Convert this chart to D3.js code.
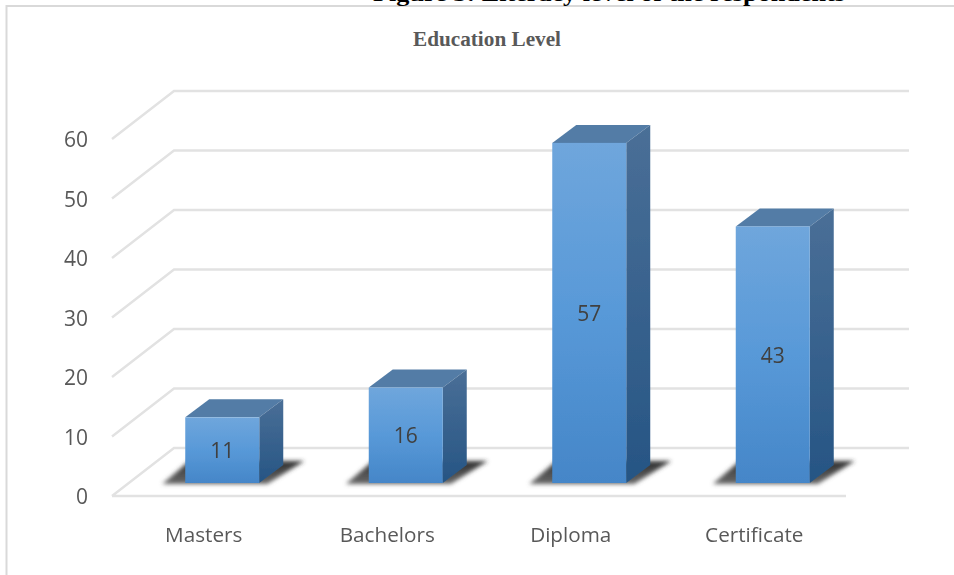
<!DOCTYPE html>
<html><head><meta charset="utf-8">
<script src="https://cdn.jsdelivr.net/npm/d3@7"></script>
<style>html,body{margin:0;padding:0;background:#fff}svg{display:block}</style></head>
<body><svg id="c" width="954" height="575"></svg>
<script>
const categories = ["Masters","Bachelors","Diploma","Certificate"];
const values = [11,16,57,43];
const yTicks = [0,10,20,30,40,50,60];
const chartTitle = "Education Level";
const figureCaption = "Figure 3: Literacy level of the respondents";

const W=954,H=575;
const svg=d3.select("#c").attr("viewBox",`0 0 ${W} ${H}`);
const defs=svg.append("defs");
function grad(id,stops){const g=defs.append("linearGradient").attr("id",id).attr("x1",0).attr("x2",0).attr("y1",0).attr("y2",1);
  stops.forEach(([o,c])=>g.append("stop").attr("offset",o).attr("stop-color",c));}
grad("front",[[0,"#6fa6dc"],[0.5,"#5899d8"],[1,"#4586c8"]]);
grad("side",[[0,"#4a6f97"],[1,"#265584"]]);
grad("shadow",[[0,"#303030"],[1,"#6a6a6a"]]);
function blur(id,sd){defs.append("filter").attr("id",id).attr("x","-20%").attr("y","-50%").attr("width","140%").attr("height","200%")
  .attr("filterUnits","userSpaceOnUse").attr("x",0).attr("y",0).attr("width",W).attr("height",H)
  .append("feGaussianBlur").attr("stdDeviation",sd);}
blur("blur",2.2); blur("soft",0.5); blur("txt",0.35);

// frame
svg.append("path").attr("d",`M6.5 ${H} V6 H${W}`).attr("fill","none").attr("stroke","#d9d9d9").attr("stroke-width",2);

// caption (cut off by the top edge, as in the reference)
svg.append("text").attr("x",373).attr("y",0.6).attr("font-family","'Liberation Serif'").attr("font-weight","bold")
  .attr("font-size",21.5).attr("fill","#000").attr("textLength",472).attr("lengthAdjust","spacingAndGlyphs").text(figureCaption);
svg.append("text").attr("x",487).attr("y",46).attr("text-anchor","middle").attr("font-family","'Liberation Serif'")
  .attr("font-weight","bold").attr("font-size",20).attr("fill","#595959").attr("textLength",148).attr("lengthAdjust","spacingAndGlyphs").text(chartTitle);

// scales
const depthX=62, depthY=48;
const y=d3.scaleLinear().domain([0,60]).range([496,139]);
const x=d3.scaleBand().domain(categories).range([112,846]);
const barX=d3.scaleBand().domain(categories).range([130.5,864.5]);
const barW=74, bDX=24, bDY=18, floorY=483;
const h=d3.scaleLinear().domain([0,60]).range([0,358]);

// gridlines
const grid=svg.append("g").attr("fill","none").attr("stroke","#e2e2e2").attr("stroke-width",2.4).attr("filter","url(#soft)");
yTicks.forEach(t=>{
  const fy=y(t);
  const d=t===0
    ?`M112 ${fy} L${112+depthX} ${fy-depthY} L909 ${fy-depthY} M112 ${fy} H846`
    :`M112 ${fy} L${112+depthX} ${fy-depthY} H909`;
  grid.append("path").attr("d",d);
});
// axis labels
const labels=svg.append("g").attr("filter","url(#txt)");
const axisStyle=s=>s.attr("font-family","'Open Sans'").attr("fill","#595959");
labels.append("g").selectAll("text").data(yTicks).join("text").call(axisStyle).attr("font-size",21)
  .attr("x",88).attr("text-anchor","end").attr("y",d=>y(d)+8).text(d=>d);
labels.append("g").selectAll("text").data(categories).join("text").call(axisStyle).attr("font-size",20.7)
  .attr("x",d=>x(d)+x.bandwidth()/2).attr("text-anchor","middle").attr("y",542).text(d=>d);

// bars
const bars=svg.append("g").selectAll("g").data(categories.map((c,i)=>({c,v:values[i]}))).join("g");
bars.each(function(d){
  const g=d3.select(this);
  const cx=barX(d.c)+barX.bandwidth()/2;
  const l=cx-barW/2, r=l+barW, top=floorY-h(d.v);
  g.append("path").attr("filter","url(#blur)").attr("fill","url(#shadow)")
    .attr("d",`M${l-23} ${floorY+1} L${l+4} ${floorY-22} H${r+45} L${r+8} ${floorY+1} Z`);
  const s=g.append("g").attr("filter","url(#soft)");
  s.append("path").attr("fill","#527ca6").attr("d",`M${l} ${top} L${l+bDX} ${top-bDY} H${r+bDX} L${r} ${top} Z`);
  s.append("path").attr("fill","url(#side)").attr("d",`M${r} ${top} L${r+bDX} ${top-bDY} V${floorY-bDY} L${r} ${floorY} Z`);
  s.append("rect").attr("x",l).attr("y",top).attr("width",barW).attr("height",floorY-top).attr("fill","url(#front)");
  g.append("text").attr("filter","url(#txt)").attr("x",cx).attr("y",top+(floorY-top)/2+8).attr("text-anchor","middle")
    .attr("font-family","'Open Sans'").attr("font-size",21).attr("fill","#404040").text(d.v);
});
</script></body></html>
